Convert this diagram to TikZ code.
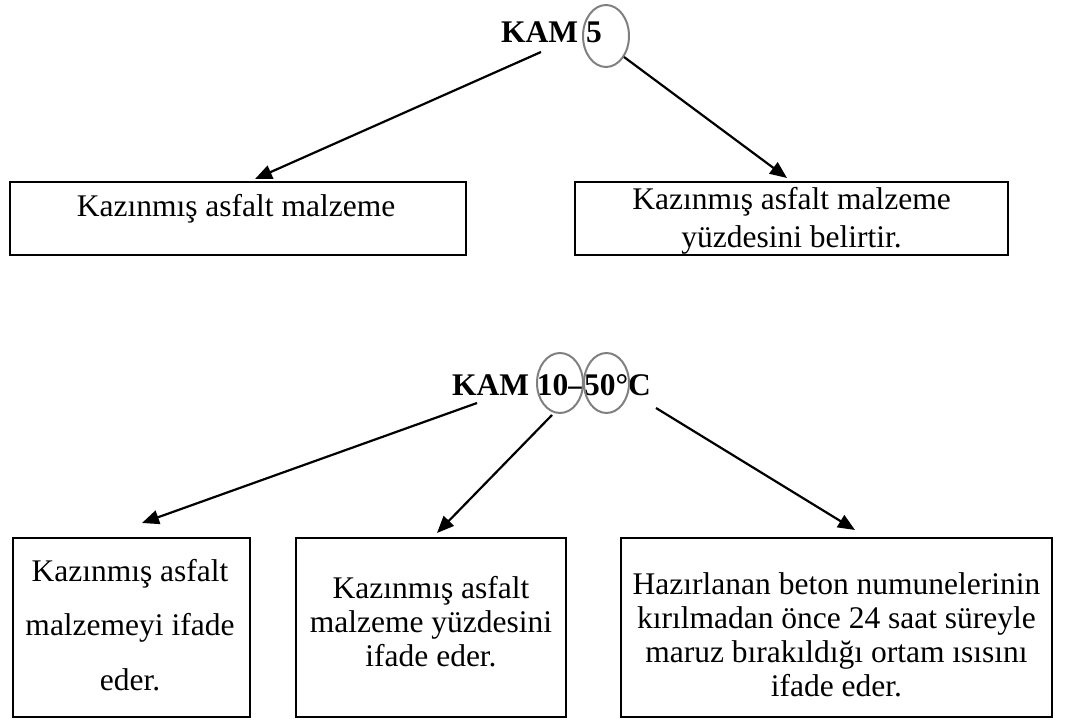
\documentclass[tikz,border=0pt]{standalone}
\usepackage{fontspec}
\setmainfont{Liberation Serif}
\usetikzlibrary{arrows.meta,shapes.geometric}
\begin{document}
\begin{tikzpicture}[x=1pt,y=-1pt,
  boxnode/.style={draw=black,line width=2.6pt,rectangle,inner sep=0pt},
  txt/.style={inner sep=0pt,align=center,font=\fontsize{31.5}{38}\selectfont},
  txtb/.style={inner sep=0pt,align=center,font=\fontsize{31.5}{34}\selectfont},
  txtw/.style={inner sep=0pt,align=center,font=\fontsize{31.5}{54.5}\selectfont},
  title/.style={inner sep=0pt,anchor=base,font=\fontsize{31.5}{38}\selectfont\bfseries},
  ring/.style={draw=black!50,line width=2pt,ellipse,inner sep=0pt},
  arr/.style={draw=black,line width=2.2pt,-{Triangle[length=17pt,width=14pt]}}]
\useasboundingbox (0,0) rectangle (1089,727);
% top diagram
\node[title] (t1) at (551.5,43) {KAM 5};
\node[ring,minimum width=46pt,minimum height=62pt] (e1) at (606,36) {};
\node[boxnode,minimum width=456pt,minimum height=73pt] (box1) at (238,218.5) {};
\node[txt,anchor=base] (tx1) at (236,217) {Kazınmış asfalt malzeme};
\node[boxnode,minimum width=433pt,minimum height=73pt] (box2) at (791.5,218.5) {};
\node[txt] (tx2) at (791.5,220.5) {Kazınmış asfalt malzeme\\yüzdesini belirtir.};
\coordinate (a1s) at (541,52);
\coordinate (a1e) at (255,179);
\coordinate (a2s) at (624,57);
\coordinate (a2e) at (787,178);
\draw[arr] (a1s) -- (a1e);
\draw[arr] (a2s) -- (a2e);
% bottom diagram
\node[title] (t2) at (551.5,395) {KAM 10–50°C};
\node[ring,minimum width=46pt,minimum height=60pt] (e2) at (560,383) {};
\node[ring,minimum width=45pt,minimum height=60pt] (e3) at (606.5,383) {};
\node[boxnode,minimum width=237pt,minimum height=179pt] (boxA) at (131.5,627.5) {};
\node[txtw] (txA) at (130,625) {Kazınmış asfalt\\malzemeyi ifade\\eder.};
\node[boxnode,minimum width=270pt,minimum height=179pt] (boxB) at (431,627.5) {};
\node[txtb] (txB) at (431,621.5) {Kazınmış asfalt\\malzeme yüzdesini\\ifade eder.};
\node[boxnode,minimum width=431pt,minimum height=179pt] (boxC) at (836.5,627.5) {};
\node[txtb] (txC) at (836.5,634.5) {Hazırlanan beton numunelerinin\\kırılmadan önce 24 saat süreyle\\maruz bırakıldığı ortam ısısını\\ifade eder.};
\coordinate (b1s) at (477,403);
\coordinate (b1e) at (142,523);
\coordinate (b2s) at (552,415);
\coordinate (b2e) at (437,533);
\coordinate (b3s) at (656,408);
\coordinate (b3e) at (855,530);
\draw[arr] (b1s) -- (b1e);
\draw[arr] (b2s) -- (b2e);
\draw[arr] (b3s) -- (b3e);
\end{tikzpicture}
\end{document}
